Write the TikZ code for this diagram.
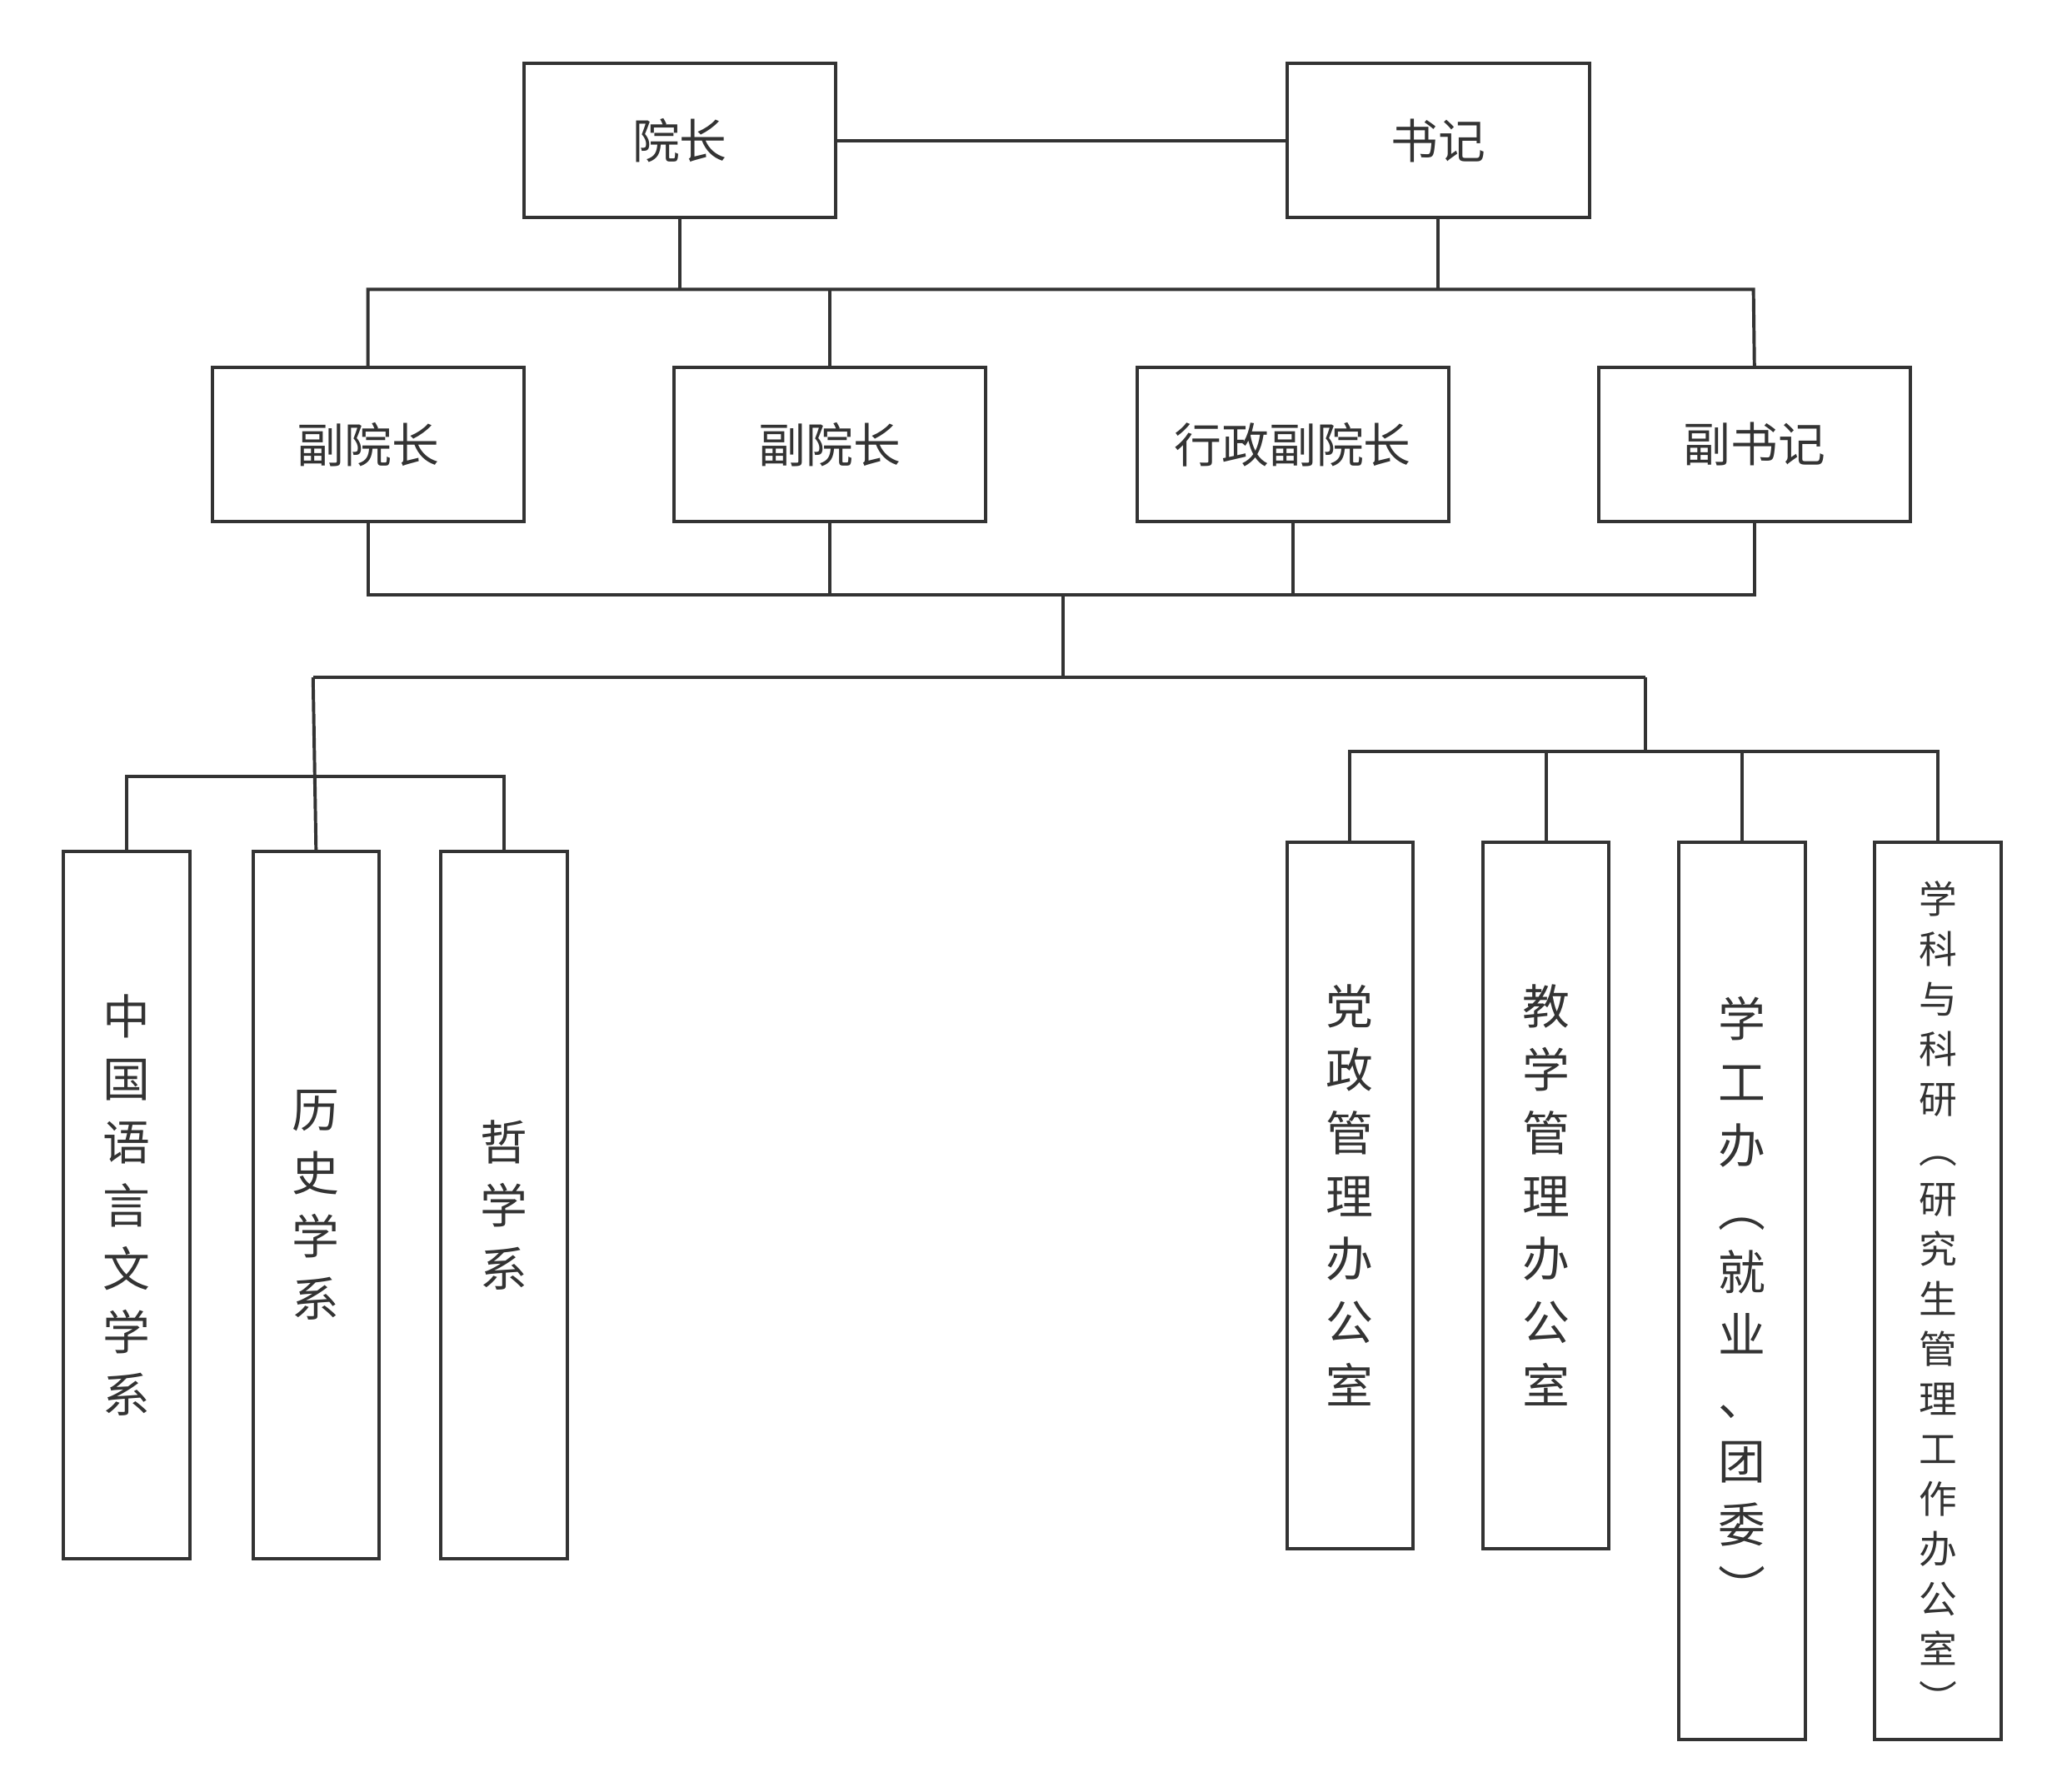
\documentclass[tikz,border=0pt]{standalone}
\usepackage{fontspec}
\setmainfont{Noto Sans CJK SC}
\begin{document}
\begin{tikzpicture}[x=1pt,y=-1pt,
  ln/.style={draw=black!80,line width=2.5pt},
  bx/.style={ln,fill=white,anchor=north west,inner sep=0pt,text=black!80},
  big/.style={font=\fontsize{36}{48}\selectfont,align=center},
  sm/.style={font=\fontsize{29}{38}\selectfont,align=center}]
\useasboundingbox (0,0) rectangle (1560,1362);
\fill[white] (0,0) rectangle (1560,1362);
\newcommand{\bxn}[6]{\node[bx,minimum width=#4pt,minimum height=#5pt] (#1) at (#2,#3) {}; \node[#6,text=black!80] at (#1.center) {\strut};}
% top
\node[bx,minimum width=237pt,minimum height=117pt,big] (yz) at (397,47) {院长};
\node[bx,minimum width=230pt,minimum height=117pt,big] (sj) at (977,47) {书记};
\draw[ln] (yz.east) -- (sj.west);
\node[bx,minimum width=237pt,minimum height=117pt,big] (f1) at (160,278) {副院长};
\node[bx,minimum width=237pt,minimum height=117pt,big] (f2) at (511,278) {副院长};
\node[bx,minimum width=237pt,minimum height=117pt,big] (f3) at (863,278) {行政副院长};
\node[bx,minimum width=237pt,minimum height=117pt,big] (f4) at (1214,278) {副书记};
\coordinate (t1) at (278,220); \coordinate (t2) at (1333,220);
\draw[ln] (yz.south) -- (yz.south |- t1);
\draw[ln] (sj.south) -- (sj.south |- t1);
\draw[ln] (f1.north) |- (t2) -- (f4.north);
\draw[ln] (f2.north) -- (f2.north |- t1);
\coordinate (b1) at (278,452);
\draw[ln] (f1.south) |- (f4.south |- b1) -- (f4.south);
\draw[ln] (f2.south) -- (f2.south |- b1);
\draw[ln] (f3.south) -- (f3.south |- b1);
\coordinate (m) at (808,452); \coordinate (h) at (808,515);
\draw[ln] (m) -- (h);
\coordinate (hl) at (238,515); \coordinate (hr) at (1251,515);
\draw[ln] (hl) -- (hr);
% left
\node[bx,minimum width=96pt,minimum height=538pt] (d1) at (47,646) {};
\node[bx,minimum width=96pt,minimum height=538pt] (d2) at (191,646) {};
\node[bx,minimum width=96pt,minimum height=538pt] (d3) at (334,646) {};
\node[big,text=black!80] (t1n) at (d1.center) {中\\国\\语\\言\\文\\学\\系};
\node[big,text=black!80] (t2n) at (d2.center) {历\\史\\学\\系};
\node[big,text=black!80] (t3n) at (d3.center) {哲\\学\\系};
\draw[ln] (hl) -- (d2.north);
\coordinate (lh) at (95,590);
\draw[ln] (d1.north) |- (d3.north |- lh) -- (d3.north);
% right
\node[bx,minimum width=96pt,minimum height=537pt] (r1) at (977,639) {};
\node[bx,minimum width=96pt,minimum height=537pt] (r2) at (1126,639) {};
\node[bx,minimum width=96pt,minimum height=682pt] (r3) at (1275,639) {};
\node[bx,minimum width=96pt,minimum height=682pt] (r4) at (1424,639) {};
\node[big,text=black!80] at (r1.center) {党\\政\\管\\理\\办\\公\\室};
\node[big,text=black!80] at (r2.center) {教\\学\\管\\理\\办\\公\\室};
\node[big,text=black!80] at ([yshift=-8pt]r3.center) {学\\工\\办\\︵\\就\\业\\、\\团\\委\\︶};
\node[sm,text=black!80] at ([yshift=-5pt]r4.center) {学\\科\\与\\科\\研\\︵\\研\\究\\生\\管\\理\\工\\作\\办\\公\\室\\︶};
\coordinate (rh) at (1025,571);
\draw[ln] (hr) -- (hr |- rh);
\draw[ln] (r1.north) |- (r4.north |- rh) -- (r4.north);
\draw[ln] (r2.north) -- (r2.north |- rh);
\draw[ln] (r3.north) -- (r3.north |- rh);
\end{tikzpicture}
\end{document}
